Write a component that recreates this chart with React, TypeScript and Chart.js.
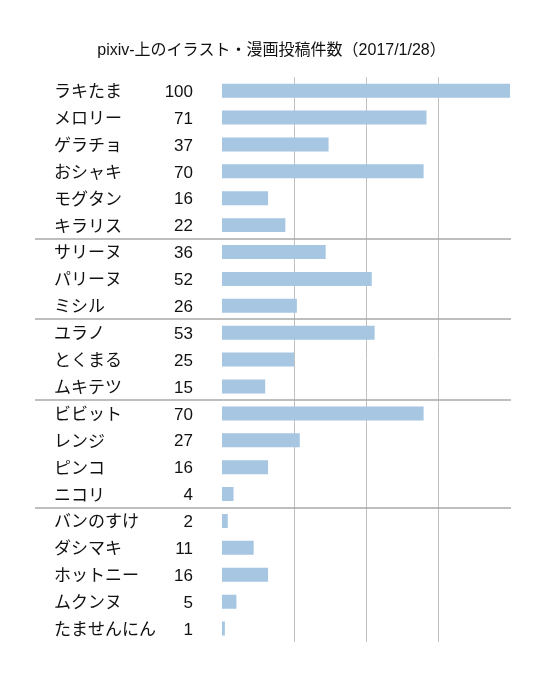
import React, { useEffect, useRef } from 'react';
import Chart from 'chart.js/auto';

// pixiv posting counts per character
const names = [
  'ラキたま', 'メロリー', 'ゲラチョ', 'おシャキ', 'モグタン', 'キラリス',
  'サリーヌ', 'パリーヌ', 'ミシル',
  'ユラノ', 'とくまる', 'ムキテツ',
  'ビビット', 'レンジ', 'ピンコ', 'ニコリ',
  'バンのすけ', 'ダシマキ', 'ホットニー', 'ムクンヌ', 'たませんにん',
];
const counts = [100, 71, 37, 70, 16, 22, 36, 52, 26, 53, 25, 15, 70, 27, 16, 4, 2, 11, 16, 5, 1];
// index of the last row in each group (a separator line goes below it)
const groupEnds = [5, 8, 11, 15];
const xTicks = [25, 50, 75];

const TITLE = 'pixiv-上のイラスト・漫画投稿件数（2017/1/28）';
const FONT = "'Liberation Sans', 'Noto Sans CJK JP', sans-serif";
const JP_FONT = "'Noto Sans CJK JP', sans-serif";

const rowLabels = {
  id: 'rowLabels',
  afterDraw(chart: Chart) {
    const ctx = chart.ctx;
    const y = chart.scales.y;
    ctx.save();
    ctx.fillStyle = '#111';
    ctx.textBaseline = 'middle';
    names.forEach((n, i) => {
      const py = y.getPixelForValue(i);
      ctx.font = `17px ${JP_FONT}`;
      ctx.textAlign = 'left';
      ctx.fillText(n, 54, py);
      ctx.font = `17px ${FONT}`;
      ctx.textAlign = 'right';
      ctx.fillText(String(counts[i]), 193, py + 1.5);
    });
    // group separators
    ctx.strokeStyle = '#a8a8a8';
    ctx.lineWidth = 1.5;
    groupEnds.forEach((i) => {
      const py = Math.round((y.getPixelForValue(i) + y.getPixelForValue(i + 1)) / 2);
      ctx.beginPath();
      ctx.moveTo(35, py);
      ctx.lineTo(511, py);
      ctx.stroke();
    });
    ctx.restore();
  },
};

const App = () => {
  const chartRef = useRef<HTMLCanvasElement>(null);
  const chartInstanceRef = useRef<Chart>();

  useEffect(() => {
    document.body.style.margin = '0';
    if (!chartRef.current) return;
    const ctx = chartRef.current.getContext('2d');
    if (!ctx) return;
    if (chartInstanceRef.current) chartInstanceRef.current.destroy();

    chartInstanceRef.current = new Chart(ctx, {
      type: 'bar',
      data: {
        labels: names,
        datasets: [{
          data: counts,
          backgroundColor: '#a6c6e2',
          borderWidth: 0,
          categoryPercentage: 1,
          barPercentage: 0.52,
        }],
      },
      options: {
        indexAxis: 'y',
        responsive: false,
        animation: false,
        layout: { padding: { left: 0, right: 4, top: 0, bottom: 38 } },
        plugins: {
          legend: { display: false },
          tooltip: { enabled: false },
          title: {
            display: true,
            text: TITLE,
            color: '#111',
            font: { family: FONT, size: 16, weight: 'normal' },
            padding: { top: 41, bottom: 17 },
          },
        },
        scales: {
          x: {
            min: 0,
            max: 100,
            afterBuildTicks: (scale) => {
              scale.ticks = xTicks.map((v) => ({ value: v }));
            },
            ticks: { display: false },
            border: { display: false },
            grid: { color: '#c0c0c0', lineWidth: 1, drawTicks: false },
          },
          y: {
            display: true,
            ticks: { display: false },
            grid: { display: false },
            border: { display: false },
            afterFit: (scale) => { scale.width = 222; },
          },
          // empty right axis only reserves space so the title sits centred
          yRight: {
            type: 'category',
            position: 'right',
            display: true,
            ticks: { display: false },
            grid: { display: false },
            border: { display: false },
            afterFit: (scale) => { scale.width = 33; },
          },
        },
      },
      plugins: [rowLabels],
    });

    return () => {
      if (chartInstanceRef.current) chartInstanceRef.current.destroy();
    };
  }, []);

  return (
    <div style={{ width: 547, height: 680 }}>
      <canvas ref={chartRef} width={547} height={680} />
    </div>
  );
};

export default App;
